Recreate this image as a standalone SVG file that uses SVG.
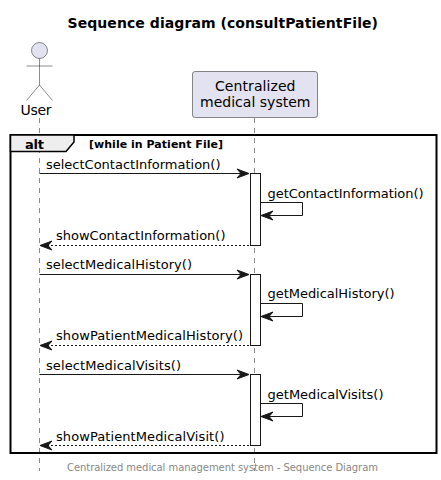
<svg xmlns="http://www.w3.org/2000/svg" width="441" height="480" viewBox="0 0 441 480">
<style>
text{font-family:"DejaVu Sans",sans-serif;fill:#000}
.m{font-size:13px}
.life{stroke:#181818;stroke-width:.5;stroke-dasharray:5 5;fill:none}
.a{stroke:#181818;stroke-width:1;fill:none}
.r{stroke-dasharray:2 2}
.act{fill:#fff;stroke:#181818;stroke-width:1}
.h{fill:#181818;stroke:#181818;stroke-width:1}
</style>
<rect width="441" height="480" fill="#fff"/>
<text x="67.5" y="28" font-size="14" font-weight="700" textLength="310.5">Sequence diagram (consultPatientFile)</text>
<g id="lifelines">
<line class="life" x1="39.5" y1="118" x2="39.5" y2="471"/>
<line class="life" x1="254.5" y1="118" x2="254.5" y2="471"/>
</g>
<g id="user">
<circle cx="39.5" cy="50.5" r="8" fill="#E2E2F0" stroke="#181818" stroke-width=".5"/>
<path d="M39.5 58.5V85M26.5 66H52.5M39.5 85L26.5 100.5M39.5 85L52.5 100.5" fill="none" stroke="#181818" stroke-width=".5"/>
<text x="20.5" y="115" font-size="14" textLength="31">User</text>
</g>
<g id="system">
<rect x="192.5" y="71.5" width="125" height="46" rx="2.5" fill="#E2E2F0" stroke="#181818" stroke-width=".5"/>
<text x="215" y="91" font-size="14" textLength="80.5">Centralized</text>
<text x="200" y="107" font-size="14" textLength="110.5">medical system</text>
</g>
<g id="alt">
<rect x="10.5" y="135" width="426" height="318" fill="none" stroke="#000" stroke-width="2"/>
<path d="M10.5 135H74V142L66 151.5H10.5Z" fill="#EEE" stroke="#000" stroke-width="1.5"/>
<text x="25" y="149" font-size="13" font-weight="700" textLength="19">alt</text>
<text x="89" y="148" font-size="11" font-weight="700" textLength="134">[while in Patient File]</text>
</g>
<g id="activations">
<rect class="act" x="250.5" y="173.5" width="10" height="72"/>
<rect class="act" x="250.5" y="274.5" width="10" height="71"/>
<rect class="act" x="250.5" y="374.5" width="10" height="71"/>
</g>
<g id="connectors">
<line class="a" x1="39.5" y1="173.5" x2="246" y2="173.5"/>
<path class="h" d="M237 169L249 173.5L237 178L241 173.5Z"/>
<path class="a" d="M260.5 202.5H302.5V215.5H263"/>
<path class="h" d="M273 211L261 215.5L273 220L269 215.5Z"/>
<line class="a r" x1="43" y1="245.5" x2="250" y2="245.5"/>
<path class="h" d="M52 241L40 245.5L52 250L48 245.5Z"/>
<line class="a" x1="39.5" y1="274.5" x2="246" y2="274.5"/>
<path class="h" d="M237 270L249 274.5L237 279L241 274.5Z"/>
<path class="a" d="M260.5 303.5H302.5V316.5H263"/>
<path class="h" d="M273 312L261 316.5L273 321L269 316.5Z"/>
<line class="a r" x1="43" y1="345.5" x2="250" y2="345.5"/>
<path class="h" d="M52 341L40 345.5L52 350L48 345.5Z"/>
<line class="a" x1="39.5" y1="374.5" x2="246" y2="374.5"/>
<path class="h" d="M237 370L249 374.5L237 379L241 374.5Z"/>
<path class="a" d="M260.5 403.5H302.5V416.5H263"/>
<path class="h" d="M273 412L261 416.5L273 421L269 416.5Z"/>
<line class="a r" x1="43" y1="445.5" x2="250" y2="445.5"/>
<path class="h" d="M52 441L40 445.5L52 450L48 445.5Z"/>
</g>
<g id="labels">
<text class="m" x="46" y="169" textLength="174.5">selectContactInformation()</text>
<text class="m" x="267.5" y="198" textLength="156">getContactInformation()</text>
<text class="m" x="56" y="240" textLength="169.5">showContactInformation()</text>
<text class="m" x="46" y="269" textLength="146">selectMedicalHistory()</text>
<text class="m" x="267.5" y="298" textLength="127">getMedicalHistory()</text>
<text class="m" x="56" y="340" textLength="187">showPatientMedicalHistory()</text>
<text class="m" x="46" y="370" textLength="135">selectMedicalVisits()</text>
<text class="m" x="267.5" y="399" textLength="116">getMedicalVisits()</text>
<text class="m" x="56" y="441" textLength="168.5">showPatientMedicalVisit()</text>
</g>
<text x="67" y="471" font-size="10" textLength="311" style="fill:#888">Centralized medical management system - Sequence Diagram</text>
</svg>
